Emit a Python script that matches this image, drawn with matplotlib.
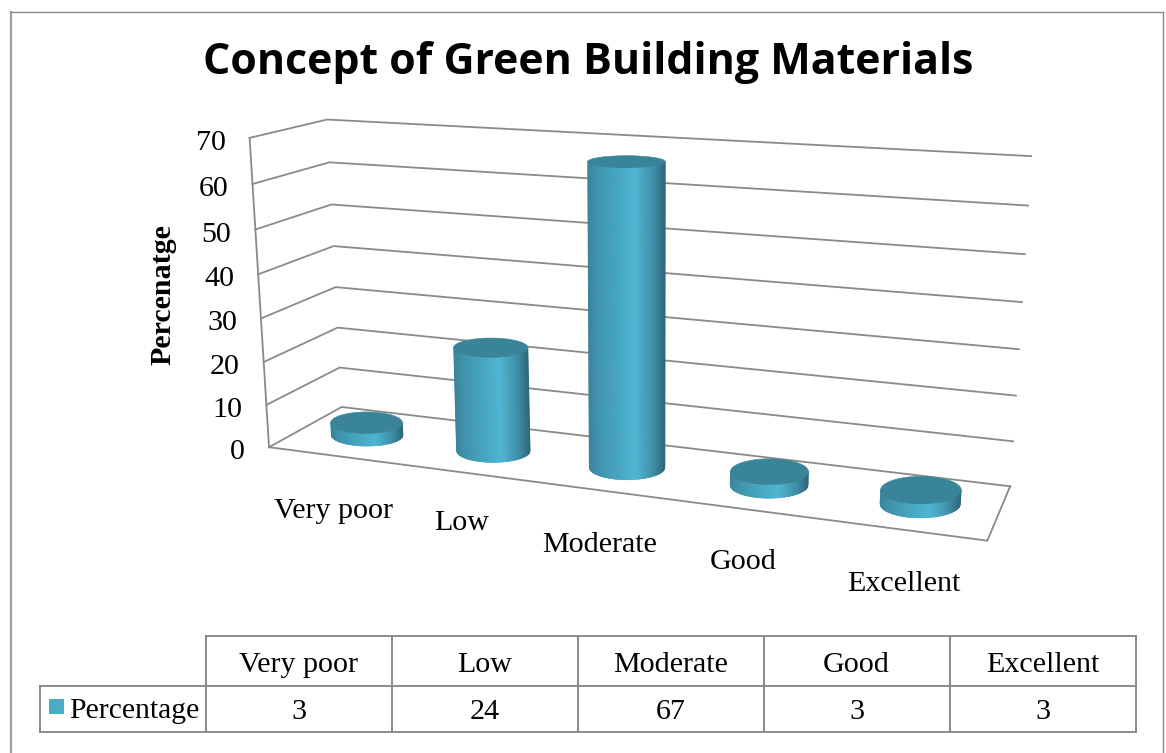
import numpy as np
import matplotlib
matplotlib.use('Agg')
import matplotlib.pyplot as plt
from matplotlib.collections import PolyCollection
from matplotlib.patches import Ellipse, Rectangle

# Data
categories = ['Very poor', 'Low', 'Moderate', 'Good', 'Excellent']
values = [3, 24, 67, 3, 3]
series_name = 'Percentage'
y_ticks = [0, 10, 20, 30, 40, 50, 60, 70]

title = 'Concept of Green Building Materials'
y_label = 'Percenatge'

# Pixels of the box corners along the y ticks, used to fit the 3D view
front_left_y = [448, 405, 362, 318, 274, 229, 184, 138]
back_left_y = [407, 367, 328, 287, 246, 205, 162, 120]
back_right_y = [486, 441, 396, 349, 302, 254, 206, 156]
front_right = (987, 541)

grid_color = '#8a8a8a'
bar_top = '#3A8499'
swatch = '#4BACC6'
text_color = '#000000'
serif = 'Liberation Serif'
fs = 21.6


def fit_view():
    rows, rhs = [], []

    def add(u, d, w, x, y):
        rows.append([u, d, w, 1, 0, 0, 0, 0, -x * u, -x * d, -x * w])
        rhs.append(x)
        rows.append([0, 0, 0, 0, u, d, w, 1, -y * u, -y * d, -y * w])
        rhs.append(y)

    for v, yf, yb, yr in zip(y_ticks, front_left_y, back_left_y, back_right_y):
        w = v / 70
        add(0, 0, w, 269 - 19 * w, yf)
        add(0, 1, w, 342 - 15 * w, yb)
        add(1, 1, w, 1010 + 21 * w, yr)
    add(1, 0, 0, *front_right)
    sol = np.linalg.lstsq(np.array(rows, float), np.array(rhs, float), rcond=None)[0]
    return np.append(sol, 1).reshape(3, 4)


VIEW = fit_view()


def project(u, d, v):
    u, d, v = np.broadcast_arrays(u, d, v)
    pts = np.stack([u, d, v / 70, np.ones_like(u, dtype=float)])
    q = VIEW @ pts
    return q[0] / q[2], q[1] / q[2]


def shade(f):
    stops = [0, 0.12, 0.5, 0.62, 0.85, 1]
    cols = ['#3A8299', '#3F92AB', '#4AAECB', '#4FB5D2', '#3E8FA8', '#2C6679']
    rgb = np.array([matplotlib.colors.to_rgb(c) for c in cols])
    return [np.interp(f, stops, rgb[:, i]) for i in range(3)]


def disc(i, v):
    # centre and half sizes of the cylinder's level section at height v
    uc = (i + 0.5) / len(categories) * 0.998 + 0.003
    ru, rd, dc = 0.0495, 0.265, 0.475
    xc, yc = project(uc, dc, float(v))
    xl, _ = project(uc - ru, dc, float(v))
    xr, _ = project(uc + ru, dc, float(v))
    _, yf = project(uc, dc - rd, float(v))
    _, yk = project(uc, dc + rd, float(v))
    # the chart's cylinders change width less than the box does
    rx = 19.8 + 0.53 * float(xr - xl) / 2
    return float(xc), float(yc), rx, float(yf - yk) / 2


def cylinder(ax, i, value):
    xb, yb, rxb, ryb = disc(i, 0)
    xt, yt, rxt, ryt = disc(i, value)
    t = np.linspace(-1, 1, 121)
    polys, colors = [], []
    for a, c in zip(t[:-1], t[1:]):
        ya = yb + ryb * np.sqrt(1 - a * a)
        yc = yb + ryb * np.sqrt(1 - c * c)
        polys.append([(xb + rxb * a, ya), (xb + rxb * c, yc), (xt + rxt * c, yt), (xt + rxt * a, yt)])
        colors.append(shade((a + c) / 4 + 0.5))
    ax.add_collection(PolyCollection(polys, facecolors=colors, edgecolors=colors,
                                     linewidths=0.4, zorder=3 + i))
    ax.add_patch(Ellipse((xt, yt), 2 * rxt, 2 * ryt, facecolor=bar_top, edgecolor=bar_top,
                         linewidth=0.4, zorder=3 + i))


fig = plt.figure(figsize=(11.66, 7.53), dpi=100)
ax = fig.add_axes([0, 0, 1, 1])
ax.set_xlim(0, 1166)
ax.set_ylim(753, 0)
ax.axis('off')

# Outer chart frame
ax.plot([10.5, 10.5], [753, 11.5], color='#a0a0a0', lw=1.6)
ax.plot([10.5, 1163], [11.5, 11.5], color=grid_color, lw=1.0)
ax.plot([1163, 1163], [11.5, 753], color=grid_color, lw=1.0)

ax.text(588, 62, title, fontsize=30.9, fontweight='bold', family='Open Sans',
        ha='center', va='center', color=text_color)
ax.text(163, 295, y_label, fontsize=fs, fontweight='bold', family=serif,
        rotation=90, ha='center', va='center', color=text_color)

# Walls and gridlines
for v in y_ticks:
    xs, ys = project(np.array([0, 0, 1]), np.array([0, 1, 1]), float(v))
    ax.plot(xs, ys, color=grid_color, lw=1.3, solid_joinstyle='miter', zorder=1)
    ax.text(xs[0] - 24, ys[0] + 5, str(v), fontsize=fs, family=serif,
            ha='right', va='center', color=text_color)
xs, ys = project(np.array([0, 0]), np.array([0, 0]), np.array([0.0, 70.0]))
ax.plot(xs, ys, color=grid_color, lw=1.3, zorder=1)
xs, ys = project(np.array([0, 1, 1]), np.array([0, 0, 1]), 0.0)
ax.plot(xs, ys, color=grid_color, lw=1.3, solid_joinstyle='miter', zorder=1)

for i, value in enumerate(values):
    cylinder(ax, i, value)

# Category labels under the floor
label_pos = [(333, 511), (462, 523), (600, 545), (743.5, 562), (903.5, 584)]
for name, (lx, ly) in zip(categories, label_pos):
    ax.text(lx, ly, name, fontsize=fs, family=serif, ha='center', va='center', color=text_color)

# Data table
col_x = np.linspace(206, 1135.5, len(categories) + 1)
row_y = [636, 686, 732]
tbl = dict(color=grid_color, lw=1.4, solid_capstyle='projecting')
ax.plot([col_x[0], col_x[-1]], [row_y[0], row_y[0]], **tbl)
ax.plot([40, col_x[-1]], [row_y[1], row_y[1]], **tbl)
ax.plot([40, col_x[-1]], [row_y[2], row_y[2]], **tbl)
ax.plot([40, 40], [row_y[1], row_y[2]], **tbl)
for x in col_x:
    ax.plot([x, x], [row_y[0], row_y[2]], **tbl)
for i, (name, value) in enumerate(zip(categories, values)):
    cx = 0.5 * (col_x[i] + col_x[i + 1])
    ax.text(cx, 665, name, fontsize=fs, family=serif, ha='center', va='center', color=text_color)
    ax.text(cx, 712, str(value), fontsize=fs, family=serif, ha='center', va='center', color=text_color)
ax.add_patch(Rectangle((49, 699), 15, 15, facecolor=swatch, edgecolor='none'))
ax.text(69, 711, series_name, fontsize=21.3, family=serif, ha='left', va='center', color=text_color)

fig.savefig('out.png', dpi=100)
